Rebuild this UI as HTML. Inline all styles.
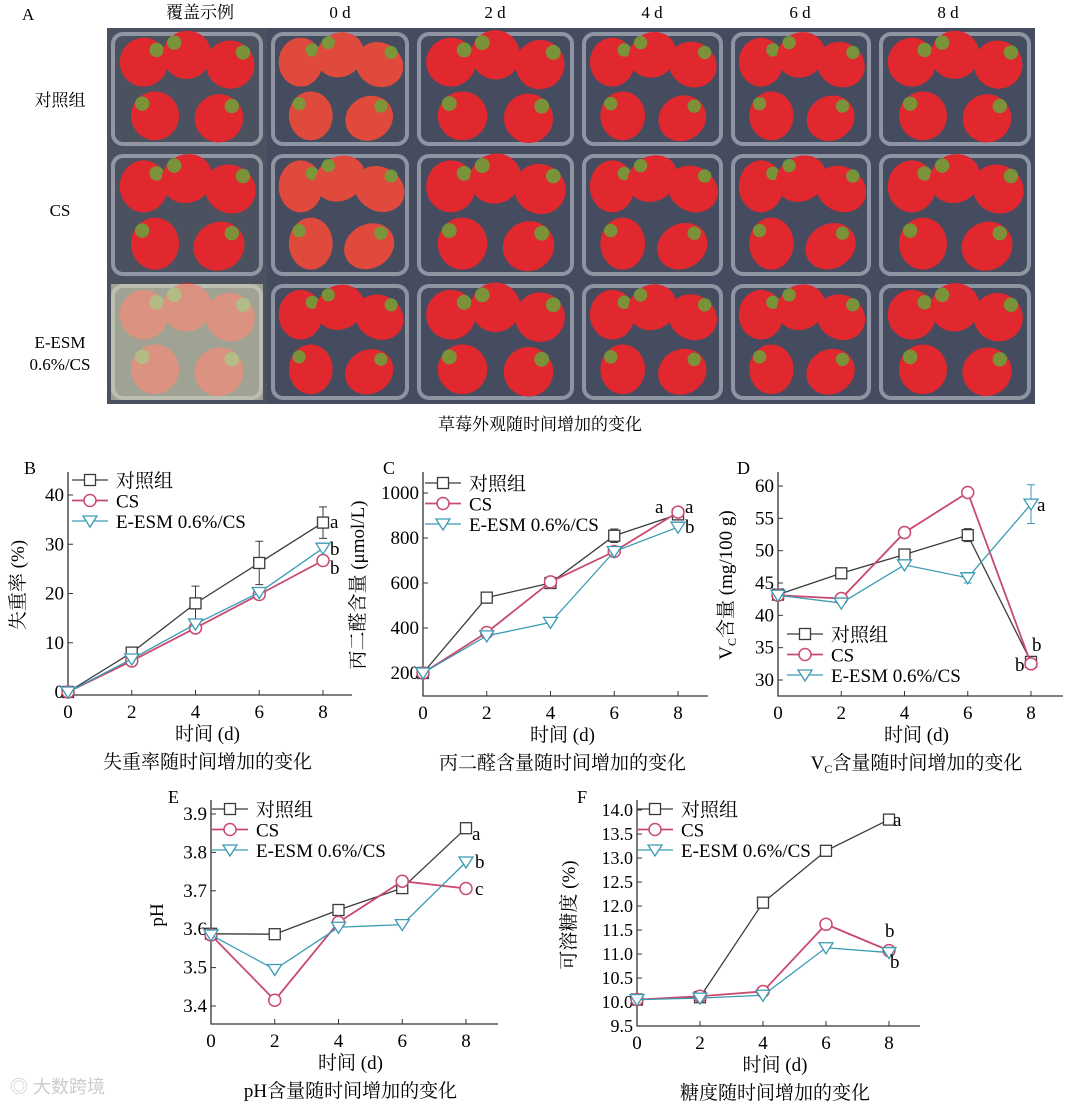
<!DOCTYPE html>
<html><head><meta charset="utf-8">
<style>
html,body{margin:0;padding:0;background:#fff;}
svg{display:block;font-family:"Liberation Serif","Noto Serif CJK SC",serif;}
</style></head>
<body>
<svg id="fig" width="1080" height="1105" viewBox="0 0 1080 1105" xmlns="http://www.w3.org/2000/svg">
<rect width="1080" height="1105" fill="#fff"/>
<g id="panelA">
  <text x="22" y="20" font-size="17">A</text>
  <text x="200" y="18" font-size="17" text-anchor="middle">覆盖示例</text>
  <text x="340" y="18" font-size="17" text-anchor="middle">0 d</text>
  <text x="495" y="18" font-size="17" text-anchor="middle">2 d</text>
  <text x="652" y="18" font-size="17" text-anchor="middle">4 d</text>
  <text x="800" y="18" font-size="17" text-anchor="middle">6 d</text>
  <text x="948" y="18" font-size="17" text-anchor="middle">8 d</text>
  <text x="60" y="106" font-size="17" text-anchor="middle">对照组</text>
  <text x="60" y="216" font-size="17" text-anchor="middle">CS</text>
  <text x="60" y="348" font-size="17" text-anchor="middle">E-ESM</text>
  <text x="60" y="370" font-size="17" text-anchor="middle">0.6%/CS</text>
  <g id="photos"></g>
  <text x="540" y="430" font-size="17" text-anchor="middle">草莓外观随时间增加的变化</text>
</g>
<g id="charts"></g>
<text x="10" y="1093" font-size="18" fill="#ccc" font-family="Liberation Sans,Noto Sans CJK SC,sans-serif">◎ 大数跨境</text>
</svg>
<script>
const NS="http://www.w3.org/2000/svg";
function mk(tag,attrs,parent,txt){const e=document.createElementNS(NS,tag);for(const k in attrs)e.setAttribute(k,attrs[k]);if(txt!==undefined)e.textContent=txt;parent.appendChild(e);return e;}

// ---- photo grid (decorative) ----
const colEdges=[107,267,413,578,727,875,1035];
const rowEdges=[28,150,280,404];
const photos=document.getElementById('photos');
for(let r=0;r<3;r++)for(let c=0;c<6;c++){
  const x=colEdges[c],y=rowEdges[r],w=colEdges[c+1]-x,h=rowEdges[r+1]-y;
  const g=mk('g',{},photos);
  
  
  mk('rect',{x:x,y:y,width:w,height:h,fill:c==0?'#4c5160':'#454c60'},g);
  mk('rect',{x:x+6,y:y+6,width:w-12,height:h-12,rx:10,fill:'none',stroke:'#c0c5cf','stroke-width':4,opacity:0.6},g);
  const cx=x+w/2,cy=y+h/2;
  const pos=[[-0.27,-0.22],[0,-0.28],[0.27,-0.2],[-0.2,0.22],[0.2,0.24]];
  pos.forEach((p,i)=>{
    const sx=cx+p[0]*w,sy=cy+p[1]*h;
    mk('ellipse',{cx:sx,cy:sy,rx:w*0.15,ry:h*0.2,fill:(c==1&&r<2)?'#e04a3c':'#e0282e',transform:`rotate(${i*60} ${sx} ${sy})`},g);
    mk('circle',{cx:sx+(i%2?-1:1)*w*0.08,cy:sy-h*0.1,r:w*0.045,fill:'#6aa53a',opacity:0.85},g);
  });
  if(c==0&&r==2) mk('rect',{x:x+4,y:y+4,width:w-8,height:h-8,fill:'#d8d8b8',opacity:0.6},g);
}

// ---- chart data ----
const days=[0,2,4,6,8];
const seriesNames=['对照组','CS','E-ESM 0.6%/CS'];
const colors=['#3a3a3a','#c94a6e','#3a9bb3'];

const bControl=[0,8,18,26.2,34.4], bCS=[0,6.3,13,19.8,26.7], bE=[0,6.7,13.8,20.2,29.2];
const bTicks=[0,10,20,30,40];
const cControl=[200,535,600,810,905], cCS=[200,380,605,740,915], cE=[200,365,425,740,848];
const cTicks=[200,400,600,800,1000];
const dControl=[43.2,46.5,49.4,52.4,32.8], dCS=[43.1,42.6,52.8,59,32.5], dE=[43.1,41.9,47.8,45.8,57.2];
const dTicks=[30,35,40,45,50,55,60];
const eControl=[3.588,3.587,3.65,3.707,3.863], eCS=[3.585,3.415,3.618,3.725,3.706], eE=[3.585,3.495,3.605,3.612,3.775];
const eTicks=[3.4,3.5,3.6,3.7,3.8,3.9];
const fControl=[10.05,10.1,12.07,13.15,13.8], fCS=[10.05,10.12,10.22,11.62,11.07], fE=[10.05,10.08,10.14,11.13,11.03];
const fTicks=[9.5,10.0,10.5,11.0,11.5,12.0,12.5,13.0,13.5,14.0];
const bErr=[0,0.6,3.5,4.4,3.2], cErr=[0,10,15,30,25], dErr=[0.3,0.3,0.5,1.0,0.5];
const dEErr=[0,0,0,0.8,3.0];

const charts=document.getElementById('charts');
function chart(o){
  const g=mk('g',{},charts);
  
  
  const X=v=>o.x0+(o.x8-o.x0)*v/8;
  const Y=v=>o.yA+(o.yB-o.yA)*(v-o.vA)/(o.vB-o.vA);
  const ax=mk('path',{d:`M${o.x0},${o.top}V${o.axisY}H${o.right}`,fill:'none',stroke:'#333','stroke-width':1.3},g);
  
  
  const fs=o.fs||19;
  o.ticks.forEach(t=>{
    const y=Y(t);
    mk('line',{x1:o.x0,x2:o.x0+5,y1:y,y2:y,stroke:'#333'},g);
    const tl=mk('text',{x:o.x0-4,y:y+6,'font-size':fs,'text-anchor':'end'},g,o.fmt?o.fmt(t):String(t));
    
    
  });
  days.forEach(d=>{
    const x=X(d);
    mk('line',{x1:x,x2:x,y1:o.axisY,y2:o.axisY-5,stroke:'#333'},g);
    const tl=mk('text',{x:x,y:o.axisY+23,'font-size':19,'text-anchor':'middle'},g,String(d));
    
    
  });
  o.series.forEach((s,si)=>{
    const sg=mk('g',{},g);
    
    
    mk('polyline',{points:s.map((v,i)=>X(days[i])+','+Y(v)).join(' '),fill:'none',stroke:colors[si],'stroke-width':si==1?1.8:1.3},sg);
    s.forEach((v,i)=>{
      const x=X(days[i]),y=Y(v);
      const errs=si==0?o.err:(si==2?o.errE:null);
      if(errs&&errs[i]){const e=errs[i];const y1=Y(v+e),y2=Y(v-e);mk('path',{d:`M${x},${y1}V${y2}M${x-4},${y1}H${x+4}M${x-4},${y2}H${x+4}`,stroke:colors[si],fill:'none'},sg);}
      const m=marker(sg,si,x,y);
      
      
    });
  });
  seriesNames.forEach((n,i)=>{
    const y=o.legY+i*20.5;
    const lg=mk('g',{},g);
    
    
    mk('line',{x1:o.legX,x2:o.legX+36,y1:y,y2:y,stroke:colors[i],'stroke-width':i==1?1.8:1.3},lg);
    marker(lg,i,o.legX+18,y);
    mk('text',{x:o.legX+44,y:y+7,'font-size':19},lg,n);
  });
  (o.notes||[]).forEach(n=>{const t=mk('text',{x:n[0],y:n[1],'font-size':19},g,n[2]);});
  const L=mk('text',{x:o.letter[0],y:o.letter[1],'font-size':18},g,o.letter[2]);
  
  const yl=mk('text',{x:o.ylab[0],y:o.ylab[1],'font-size':19,'text-anchor':'middle',transform:`rotate(-90 ${o.ylab[0]} ${o.ylab[1]})`},g);
  
  if(o.vc){mk('tspan',{},yl,'V');mk('tspan',{'font-size':12,dy:4},yl,'C');mk('tspan',{dy:-4},yl,'含量 (mg/100 g)');}
  else yl.textContent=o.ylab[2];
  const xl=mk('text',{x:(o.x0+o.x8)/2+12,y:o.axisY+45,'font-size':19,'text-anchor':'middle'},g,'时间 (d)');
  
  const cp=mk('text',{x:(o.x0+o.x8)/2+12,y:o.axisY+73,'font-size':19,'text-anchor':'middle'},g);
  
  if(o.vc){mk('tspan',{},cp,'V');mk('tspan',{'font-size':12,dy:4},cp,'C');mk('tspan',{dy:-4},cp,'含量随时间增加的变化');}
  else cp.textContent=o.caption;
}
function marker(p,si,x,y){
  const c=colors[si];
  if(si==0)return mk('rect',{x:x-5.5,y:y-5.5,width:11,height:11,fill:'#fff',stroke:c,'stroke-width':1.3},p);
  if(si==1)return mk('circle',{cx:x,cy:y,r:6,fill:'#fff',stroke:c,'stroke-width':1.5},p);
  return mk('path',{d:`M${x-7},${y-5}H${x+7}L${x},${y+6}Z`,fill:'#fff',stroke:c,'stroke-width':1.3},p);
}

chart({name:'chart-weight-loss',x0:68,x8:323,vA:0,yA:692,vB:40,yB:495,axisY:695,top:472,right:352,ticks:bTicks,
  series:[bControl,bCS,bE],err:bErr,legX:72,legY:480,letter:[24,474,'B'],ylab:[24,585,'失重率 (%)'],caption:'失重率随时间增加的变化',
  notes:[[330,528,'a'],[330,555,'b'],[330,574,'b']]});
chart({name:'chart-mda',x0:423,x8:678,vA:200,yA:673,vB:1000,yB:493,axisY:696,top:472,right:708,ticks:cTicks,
  series:[cControl,cCS,cE],err:cErr,legX:425,legY:483,letter:[383,474,'C'],ylab:[364,585,'丙二醛含量 (μmol/L)'],caption:'丙二醛含量随时间增加的变化',
  notes:[[655,513,'a'],[685,513,'a'],[685,533,'b']]});
chart({name:'chart-vc',x0:778,x8:1031,vA:30,yA:680,vB:60,yB:486,axisY:696,top:472,right:1063,ticks:dTicks,vc:true,
  series:[dControl,dCS,dE],err:dErr,errE:dEErr,legX:787,legY:634,letter:[737,474,'D'],ylab:[732,585,''],
  notes:[[1037,511,'a'],[1032,651,'b'],[1015,671,'b']]});
chart({name:'chart-ph',x0:211,x8:466,vA:3.4,yA:1006,vB:3.9,yB:814,axisY:1024,top:800,right:498,ticks:eTicks,fmt:t=>t.toFixed(1),
  series:[eControl,eCS,eE],legX:212,legY:809,letter:[168,803,'E'],ylab:[163,915,'pH'],caption:'pH含量随时间增加的变化',
  notes:[[472,840,'a'],[475,868,'b'],[475,895,'c']]});
chart({name:'chart-sugar',x0:637,x8:889,vA:9.5,yA:1026,vB:14.0,yB:810,axisY:1026,top:800,right:920,ticks:fTicks,fmt:t=>t.toFixed(1),fs:18,
  series:[fControl,fCS,fE],legX:637,legY:809,letter:[577,803,'F'],ylab:[575,915,'可溶糖度 (%)'],caption:'糖度随时间增加的变化',
  notes:[[893,826,'a'],[885,937,'b'],[890,968,'b']]});
</script>
</body></html>
